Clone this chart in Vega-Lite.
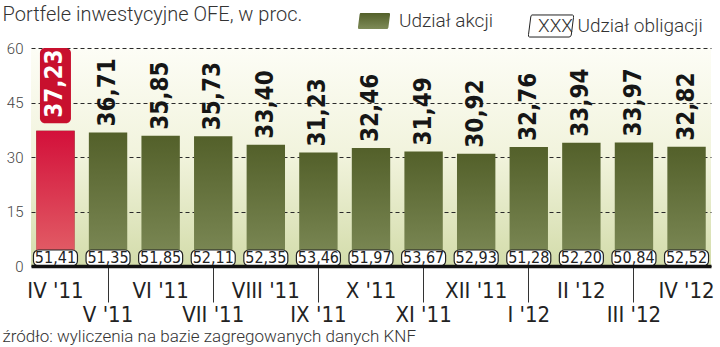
{
  "$schema": "https://vega.github.io/schema/vega-lite/v6.json",
  "width": 680,
  "height": 218,
  "autosize": {"type": "none"},
  "padding": {"left": 31, "top": 48, "right": 9, "bottom": 81},
  "background": "white",
  "config": {
    "locale": {"number": {"decimal": ",", "thousands": " ", "grouping": [3], "currency": ["", " zł"]}},
    "view": {
      "stroke": null,
      "fill": {"gradient": "linear", "x1": 0, "y1": 0, "x2": 0, "y2": 1, "stops": [{"offset": 0, "color": "#fdfdf6"}, {"offset": 0.5, "color": "#f1f3dc"}, {"offset": 1, "color": "#d3dcaa"}]}
    }
  },
  "data": {
    "values": [
      {"m": "IV '11", "a": 37.23, "o": 51.41},
      {"m": "V '11", "a": 36.71, "o": 51.35},
      {"m": "VI '11", "a": 35.85, "o": 51.85},
      {"m": "VII '11", "a": 35.73, "o": 52.11},
      {"m": "VIII '11", "a": 33.40, "o": 52.35},
      {"m": "IX '11", "a": 31.23, "o": 53.46},
      {"m": "X '11", "a": 32.46, "o": 51.97},
      {"m": "XI '11", "a": 31.49, "o": 53.67},
      {"m": "XII '11", "a": 30.92, "o": 52.93},
      {"m": "I '12", "a": 32.76, "o": 51.28},
      {"m": "II '12", "a": 33.94, "o": 52.20},
      {"m": "III '12", "a": 33.97, "o": 50.84},
      {"m": "IV '12", "a": 32.82, "o": 52.52}
    ]
  },
  "encoding": {
    "x": {
      "field": "m",
      "type": "nominal",
      "sort": null,
      "scale": {"paddingInner": 0.27, "paddingOuter": 0.1},
      "axis": {
        "title": "źródło: wyliczenia na bazie zagregowanych danych KNF",
        "titleAnchor": "start",
        "titleAlign": "left",
        "titleBaseline": "alphabetic",
        "titleX": -29,
        "titleY": 75,
        "titleFont": "Roboto",
        "titleFontSize": 17,
        "titleFontWeight": 300,
        "titleColor": "#333333",
        "labelAngle": 0,
        "labelFont": "Liberation Sans Narrow, DejaVu Sans Condensed, Roboto Condensed, Roboto",
        "labelFontSize": 22,
        "labelColor": "#222222",
        "labelPadding": {"condition": {"test": "indexof(domain('x'), datum.value) % 2 == 1", "value": 2}, "value": 14},
        "tickSize": {"condition": {"test": "indexof(domain('x'), datum.value) % 2 == 1", "value": 36}, "value": 0},
        "tickColor": "#333333",
        "tickWidth": 1,
        "domainColor": "#111111",
        "domainWidth": 3.5,
        "grid": false,
        "zindex": 1
      }
    }
  },
  "layer": [
    {
      "mark": {
        "type": "bar",
        "fill": {"gradient": "linear", "x1": 0, "y1": 0, "x2": 0, "y2": 1, "stops": [{"offset": 0, "color": "#53602a"}, {"offset": 1, "color": "#7e8b58"}]}
      },
      "encoding": {
        "y": {
          "field": "a",
          "type": "quantitative",
          "scale": {"domain": [0, 60]},
          "axis": {
            "title": "Portfele inwestycyjne OFE, w proc.",
            "titleAngle": 0,
            "titleAnchor": "start",
            "titleAlign": "left",
            "titleBaseline": "alphabetic",
            "titleX": -29,
            "titleY": -28,
            "titleFont": "Roboto",
            "titleFontSize": 20,
            "titleFontWeight": 300,
            "titleColor": "#333333",
            "values": [0, 15, 30, 45, 60],
            "grid": true,
            "gridDash": [4, 3],
            "gridColor": "#2a2a2a",
            "gridWidth": 1,
            "domain": false,
            "ticks": false,
            "labelPadding": 8,
            "labelFont": "Roboto",
            "labelFontWeight": 300,
            "labelFontSize": 15,
            "labelColor": "#444444"
          }
        },
        "opacity": {
          "datum": "Udział akcji",
          "type": "nominal",
          "scale": {"range": [1]},
          "legend": {
            "title": null,
            "orient": "none",
            "legendX": 327,
            "legendY": -43,
            "padding": 0,
            "symbolType": "M-0.85,-0.5 L0.95,-0.5 Q1.02,-0.5 1,-0.38 L0.9,0.4 Q0.88,0.5 0.8,0.5 L-0.95,0.5 Q-1.02,0.5 -1,0.38 L-0.9,-0.4 Q-0.88,-0.5 -0.85,-0.5 Z",
            "symbolSize": 1024,
            "symbolFillColor": "#5e6b31",
            "symbolStrokeWidth": 0,
            "symbolOpacity": 1,
            "labelOffset": 9,
            "labelLimit": 300,
            "labelFont": "Roboto",
            "labelFontWeight": 300,
            "labelFontSize": 19,
            "labelColor": "#333333"
          }
        }
      }
    },
    {
      "transform": [{"filter": "datum.m === \"IV '11\""}],
      "mark": {
        "type": "bar",
        "fill": {"gradient": "linear", "x1": 0, "y1": 0, "x2": 0, "y2": 1, "stops": [{"offset": 0, "color": "#d3103a"}, {"offset": 1, "color": "#e3646a"}]}
      },
      "encoding": {
        "y": {"field": "a", "type": "quantitative"}
      }
    },
    {
      "transform": [{"filter": "datum.m !== \"IV '11\""}],
      "mark": {
        "type": "text",
        "angle": 270,
        "align": "left",
        "baseline": "middle",
        "dx": 6,
        "font": "Liberation Sans Narrow, DejaVu Sans Condensed, Roboto Condensed, Roboto",
        "fontWeight": "bold",
        "fontSize": 24,
        "color": "#161616"
      },
      "encoding": {
        "y": {"field": "a", "type": "quantitative"},
        "text": {"field": "a", "type": "quantitative", "format": ".2f"}
      }
    },
    {
      "transform": [{"filter": "datum.m === \"IV '11\""}],
      "mark": {"type": "bar", "width": 31, "cornerRadius": 5, "fill": "#c8102e"},
      "encoding": {
        "y": {"datum": 39.3, "type": "quantitative"},
        "y2": {"datum": 60}
      }
    },
    {
      "transform": [{"filter": "datum.m === \"IV '11\""}],
      "mark": {
        "type": "text",
        "angle": 270,
        "align": "left",
        "baseline": "middle",
        "dx": 13,
        "font": "Liberation Sans Narrow, DejaVu Sans Condensed, Roboto Condensed, Roboto",
        "fontWeight": "bold",
        "fontSize": 24,
        "color": "#ffffff"
      },
      "encoding": {
        "y": {"field": "a", "type": "quantitative"},
        "text": {"field": "a", "type": "quantitative", "format": ".2f"}
      }
    },
    {
      "mark": {"type": "bar", "width": 44, "cornerRadius": 5, "fill": "#ffffff", "strokeWidth": 1.2},
      "encoding": {
        "y": {"datum": 0, "type": "quantitative"},
        "y2": {"datum": 4.4},
        "stroke": {
          "datum": "Udział obligacji",
          "type": "nominal",
          "scale": {"range": ["#222222"]},
          "legend": {
            "title": null,
            "orient": "none",
            "legendX": 497,
            "legendY": -45,
            "padding": 0,
            "symbolType": "M-0.85,-0.49 L0.95,-0.49 Q1.02,-0.49 1,-0.38 L0.9,0.4 Q0.88,0.49 0.8,0.49 L-0.95,0.49 Q-1.02,0.49 -1,0.38 L-0.9,-0.4 Q-0.88,-0.49 -0.85,-0.49 Z",
            "symbolSize": 2025,
            "symbolFillColor": "#ffffff",
            "symbolStrokeWidth": 1,
            "labelExpr": "'XXX  ' + datum.label",
            "labelOffset": -36,
            "labelLimit": 400,
            "labelFont": "Roboto",
            "labelFontWeight": 300,
            "labelFontSize": 19,
            "labelColor": "#333333"
          }
        }
      }
    },
    {
      "mark": {
        "type": "text",
        "align": "center",
        "baseline": "middle",
        "font": "Liberation Sans Narrow, DejaVu Sans Condensed, Roboto Condensed, Roboto",
        "fontSize": 16,
        "color": "#222222"
      },
      "encoding": {
        "y": {"datum": 2.2, "type": "quantitative"},
        "text": {"field": "o", "type": "quantitative", "format": ".2f"}
      }
    }
  ]
}
